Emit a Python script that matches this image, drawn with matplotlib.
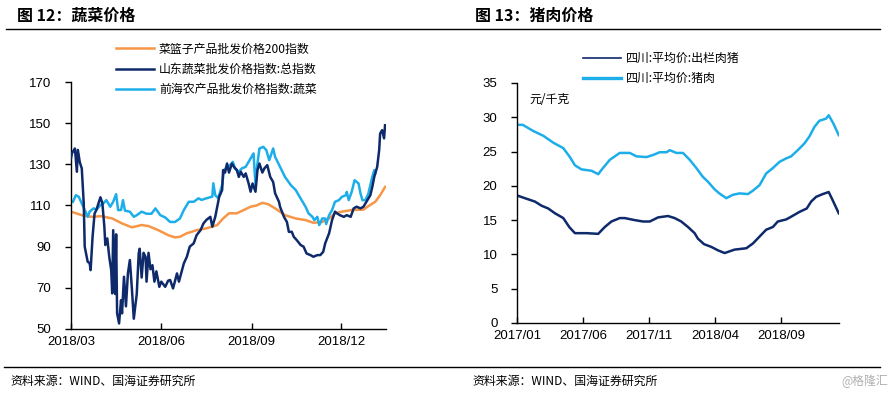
import matplotlib
matplotlib.use("Agg")
import matplotlib.pyplot as plt
import pandas as pd

plt.rcParams["font.family"] = ["Liberation Sans", "Noto Sans CJK SC", "DejaVu Sans"]
CJK = ["Noto Sans CJK SC", "DejaVu Sans"]

# 图12 蔬菜价格：横轴为距 2018/03/01 的天数
VEG_START = "2018-03-01"
VEG_END_DAY = 321
VEG_TICKS = ["2018/03", "2018/06", "2018/09", "2018/12"]
VEG_YTICKS = [50, 70, 90, 110, 130, 150, 170]

basket_days = [0, 11, 21, 31, 42, 52, 62, 72, 79, 89, 99, 106, 111, 118, 128, 138, 149,
               155, 161, 169, 176, 183, 189, 195, 201, 208, 213, 218, 229, 239, 247, 256,
               263, 269, 276, 286, 298, 303, 310, 315, 320]
basket_vals = [107, 105.3, 104.5, 104.8, 103.7, 101.3, 99.4, 100.5, 100, 98, 95.6, 94.5,
               94.8, 96.5, 98, 98.9, 100.5, 103.7, 106.2, 106.2, 107.8, 109.4, 110, 111.3,
               110.6, 108.6, 107, 105.3, 103.7, 102.9, 101.6, 102, 103.7, 106.2, 107,
               107.8, 108, 109.7, 111.8, 115, 119]

shandong_days = [0, 1, 4, 6, 7, 9, 11, 13, 14, 17, 19, 20, 22, 24, 26, 30, 32, 34, 35, 37,
                 39, 41, 42, 43, 45, 46, 47, 49, 51, 52, 54, 56, 58, 60, 62, 64, 65, 67, 69,
                 70, 72, 74, 76, 77, 79, 81, 83, 85, 87, 90, 92, 96, 99, 101, 104, 108, 110,
                 115, 118, 121, 125, 128, 132, 135, 138, 142, 144, 147, 149, 151, 154, 155,
                 157, 159, 161, 164, 166, 169, 171, 173, 176, 178, 181, 183, 185, 188, 190,
                 192, 195, 197, 200, 203, 206, 208, 212, 213, 217, 220, 222, 225, 227, 230,
                 234, 237, 240, 244, 247, 251, 254, 257, 259, 263, 266, 269, 271, 274, 278,
                 281, 285, 288, 291, 295, 298, 302, 305, 307, 309, 312, 314, 315, 317, 319,
                 320]
shandong_vals = [133, 135.4, 137.7, 126.4, 137, 131, 128, 111, 90, 82.7, 82, 78.6, 94.8,
                 106, 108, 114, 111, 99.7, 90.8, 94, 85, 78.6, 67.3, 98, 67, 96, 57.6, 52.7,
                 64, 57.6, 75.4, 61, 77, 83.5, 70, 55, 59, 67, 86.7, 89, 75, 87, 85, 73, 87,
                 79, 81, 73, 78, 70.5, 73, 70.5, 73.5, 73.8, 69.7, 77, 73, 81.9, 85, 90,
                 91.6, 95.6, 98, 101.3, 103, 104.5, 99.7, 104.5, 109.4, 114.2, 117.5, 127.2,
                 126, 130.4, 126, 130.4, 128.8, 127.2, 123.9, 126.4, 123.9, 125.6, 120.7,
                 116.7, 120.7, 116.7, 127.2, 130.4, 126, 128, 129.6, 123.9, 121.4, 115.9,
                 111.7, 109.4, 104.5, 102, 97.2, 97.2, 94.8, 93.2, 90.8, 90, 86.7, 85.9,
                 85.1, 85.9, 85.9, 87.5, 91.6, 96.5, 102.9, 107, 106.2, 105.3, 104.5, 105.3,
                 104.5, 108.6, 109.4, 108.6, 109.4, 112.6, 115, 119, 123.9, 128.8, 136.9,
                 145, 146.6, 142.6, 149]

qianhai_days = [2, 5, 8, 11, 14, 17, 19, 23, 26, 30, 33, 36, 40, 43, 46, 48, 51, 53, 55,
                60, 64, 67, 72, 77, 82, 86, 91, 96, 101, 106, 111, 115, 120, 125, 130, 133,
                138, 144, 145, 147, 150, 154, 156, 159, 162, 165, 167, 171, 174, 178, 181,
                184, 186, 188, 190, 192, 196, 199, 202, 206, 208, 213, 218, 224, 229, 234,
                239, 242, 246, 248, 251, 253, 256, 259, 260, 263, 266, 269, 273, 276, 280,
                281, 283, 286, 289, 293, 295, 297, 300, 303, 307, 309, 310]
qianhai_vals = [111.8, 115, 114.2, 111, 107.8, 104.5, 107, 108.6, 108, 110.2, 111, 112.6,
                109.4, 111.8, 115.5, 107.8, 107.8, 112.6, 107.5, 107, 104.5, 105.3, 107,
                106, 106, 108.6, 105.3, 104.2, 102, 102, 103.7, 107.8, 111.8, 111.8, 113.5,
                112.7, 113.5, 114.3, 120.8, 115, 113.5, 120, 127.2, 128.8, 129.6, 131.2,
                128, 126.4, 128, 128.8, 131.2, 133.7, 135.3, 120, 130.4, 137.7, 138.5,
                136.9, 132, 137.7, 133.6, 128.8, 123.9, 119.9, 117.5, 113.4, 109.4, 106.2,
                104.5, 102.9, 104.5, 100.5, 103.7, 103.7, 101, 105.3, 107.8, 111.8, 112.6,
                114.2, 115, 116.6, 112.6, 116.6, 122.3, 120.7, 115.8, 112.6, 112.6, 115.8,
                123.9, 127.2, 125.6]

# 图13 猪肉价格：横轴为距 2017/01 的月数
PORK_TICKS = ["2017/01", "2017/06", "2017/11", "2018/04", "2018/09"]
PORK_END_MONTH = 24.35
PORK_YTICKS = [0, 5, 10, 15, 20, 25, 30, 35]

hog_months = [0, 0.6, 1.36, 1.86, 2.36, 2.87, 3.5, 3.95, 4.38, 5.26, 6.14, 6.64, 7.14,
              7.77, 8.15, 8.91, 9.53, 10.04, 10.67, 11.42, 11.92, 12.42, 12.93, 13.43,
              13.68, 14.14, 14.69, 15.19, 15.7, 16.45, 17.34, 17.84, 18.34, 18.84, 19.35,
              19.72, 20.35, 20.73, 21.36, 21.91, 22.24, 22.62, 23.12, 23.57, 23.87, 24.33]
hog_vals = [18.6, 18.2, 17.7, 17.1, 16.7, 16.0, 15.3, 14.0, 13.1, 13.1, 13.0, 14.0, 14.8,
            15.3, 15.3, 15.0, 14.8, 14.8, 15.4, 15.6, 15.3, 14.8, 14.0, 13.1, 12.3, 11.5,
            11.1, 10.6, 10.2, 10.7, 10.9, 11.6, 12.6, 13.6, 14.0, 14.8, 15.1, 15.5, 16.2,
            16.7, 17.7, 18.4, 18.8, 19.1, 17.9, 16.0]

pork_months = [0, 0.43, 1.23, 1.99, 2.74, 3.5, 4.0, 4.38, 4.88, 5.64, 6.14, 6.5, 7.02,
               7.77, 8.53, 9.03, 9.79, 10.29, 10.79, 11.3, 11.55, 12.05, 12.55, 13.06,
               13.56, 14.06, 14.44, 14.94, 15.3, 15.83, 16.33, 16.83, 17.46, 17.84, 18.34,
               18.84, 19.35, 19.85, 20.35, 20.73, 21.23, 21.74, 22.11, 22.49, 22.87, 23.37,
               23.57, 23.92, 24.33]
pork_vals = [28.9, 28.9, 28.0, 27.3, 26.3, 25.5, 24.2, 23.0, 22.4, 22.2, 21.7, 22.6, 23.8,
             24.8, 24.8, 24.3, 24.2, 24.5, 24.9, 24.9, 25.2, 24.8, 24.8, 23.8, 22.6, 21.3,
             20.6, 19.5, 18.9, 18.2, 18.7, 18.9, 18.8, 19.3, 20.1, 21.8, 22.6, 23.5, 24.0,
             24.3, 25.2, 26.2, 27.2, 28.6, 29.5, 29.8, 30.3, 29.1, 27.4]

ORANGE = "#F79646"
NAVY = "#0E2A6B"
SKY = "#1DAEEA"

fig = plt.figure(figsize=(8.94, 3.95), dpi=100)


def style_axes(ax):
    for s in ["top", "right"]:
        ax.spines[s].set_visible(False)
    for s in ["left", "bottom"]:
        ax.spines[s].set_linewidth(1.0)
        ax.spines[s].set_color("black")
    ax.tick_params(axis="y", direction="out", length=4, width=1, labelsize=9.5, pad=10)
    ax.tick_params(axis="x", direction="in", length=4, width=1, labelsize=9.5, pad=5)


legend_kw = dict(loc="upper left", frameon=False, prop={"family": CJK, "size": 8.6},
                 handlelength=3.2, handletextpad=0.4, labelspacing=0.62,
                 borderaxespad=0, borderpad=0)

# 左图
start = pd.Timestamp(VEG_START)
ax1 = fig.add_axes([0.0794, 0.1671, 0.3524, 0.6253])
ax1.plot(basket_days, basket_vals, color=ORANGE, lw=1.8, label="菜篮子产品批发价格200指数")
ax1.plot(qianhai_days, qianhai_vals, color=SKY, lw=1.8, label="前海农产品批发价格指数:蔬菜", zorder=2)
ax1.plot(shandong_days, shandong_vals, color=NAVY, lw=1.8, label="山东蔬菜批发价格指数:总指数", zorder=3)
ax1.set_xlim(0, VEG_END_DAY)
ax1.set_ylim(50, 170)
ax1.set_yticks(VEG_YTICKS)
ax1.set_xticks([(pd.Timestamp(t.replace("/", "-") + "-01") - start).days for t in VEG_TICKS])
ax1.set_xticklabels(VEG_TICKS)
style_axes(ax1)
h, l = ax1.get_legend_handles_labels()
order = [0, 2, 1]
ax1.legend([h[i] for i in order], [l[i] for i in order],
           bbox_to_anchor=(0.143, 1.16), **legend_kw)

# 右图
ax2 = fig.add_axes([0.5783, 0.1823, 0.3602, 0.6076])
ax2.plot(hog_months, hog_vals, color=NAVY, lw=1.8, label="四川:平均价:出栏肉猪")
ax2.plot(pork_months, pork_vals, color=SKY, lw=1.8, label="四川:平均价:猪肉")
ax2.set_xlim(0, PORK_END_MONTH)
ax2.set_ylim(0, 35)
ax2.set_yticks(PORK_YTICKS)
ax2.set_xticks([(int(t[:4]) - 2017) * 12 + int(t[5:]) - 1 for t in PORK_TICKS])
ax2.set_xticklabels(PORK_TICKS)
style_axes(ax2)
leg2 = ax2.legend(bbox_to_anchor=(0.205, 1.13), **legend_kw)
leg2.get_lines()[0].set_linewidth(1.2)
leg2.get_lines()[1].set_linewidth(2.4)
ax2.text(0.038, 0.96, "元/千克", transform=ax2.transAxes, family=CJK, fontsize=8.6,
         va="top", ha="left")

# 标题、分隔线、资料来源
fig.text(17 / 894, 1 - 16 / 395, "图 12：蔬菜价格", family=CJK, fontsize=11.5, fontweight="bold",
         va="center", ha="left")
fig.text(475 / 894, 1 - 16 / 395, "图 13：猪肉价格", family=CJK, fontsize=11.5, fontweight="bold",
         va="center", ha="left")
fig.add_artist(plt.Line2D([6 / 894, 880 / 894], [1 - 29 / 395] * 2, color="black", lw=1.0))
fig.add_artist(plt.Line2D([4 / 894, 880 / 894], [1 - 367 / 395] * 2, color="black", lw=1.0))
fig.text(10 / 894, 1 - 381 / 395, "资料来源：WIND、国海证券研究所", family=CJK, fontsize=8.6,
         va="center", ha="left")
fig.text(472 / 894, 1 - 381 / 395, "资料来源：WIND、国海证券研究所", family=CJK, fontsize=8.6,
         va="center", ha="left")
fig.text(888 / 894, 1 - 381 / 395, "@格隆汇", family=CJK, fontsize=8.6, color="#B0B0B0",
         va="center", ha="right")

fig.savefig("out.png", dpi=100)
